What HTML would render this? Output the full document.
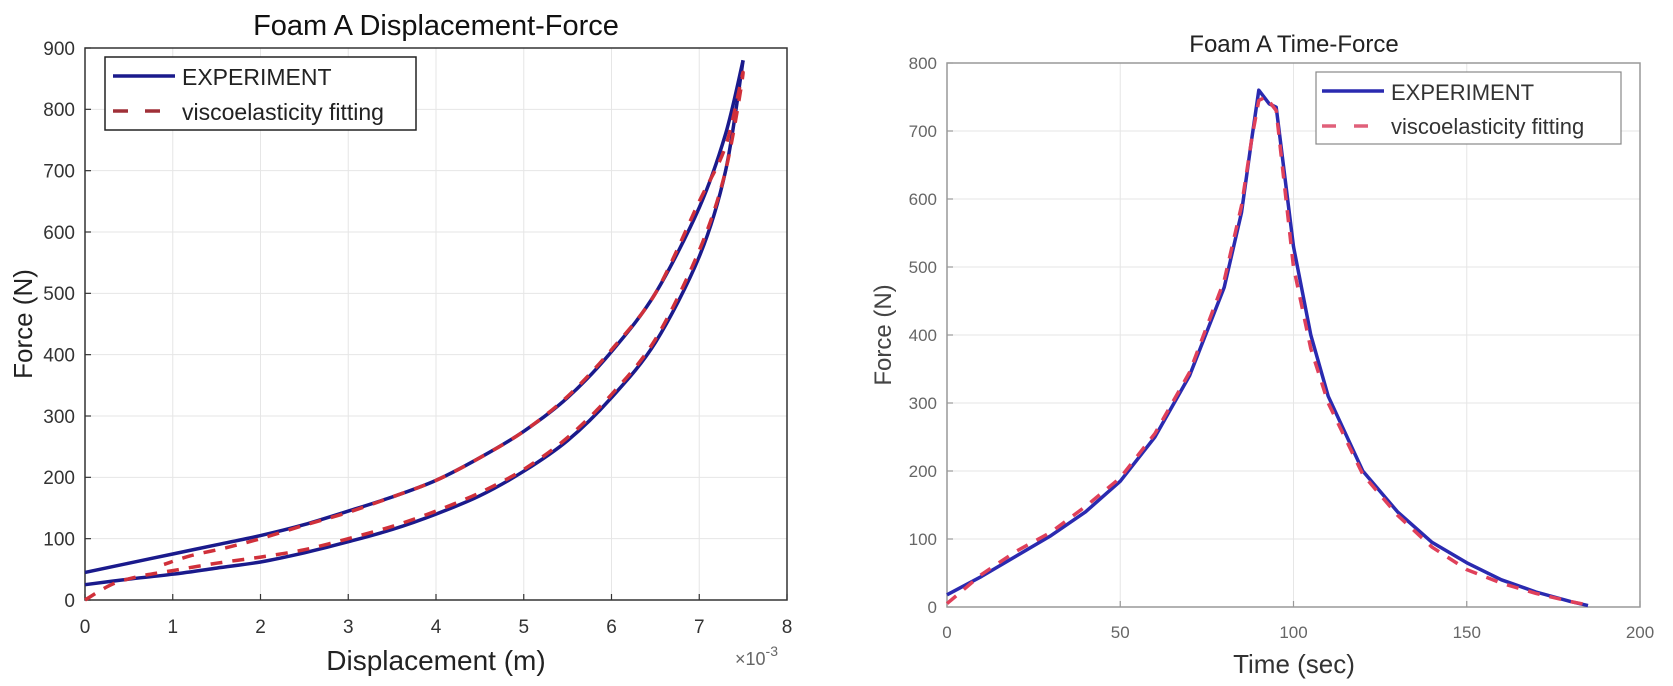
<!DOCTYPE html>
<html><head><meta charset="utf-8">
<style>
body{margin:0;background:#fff;}
svg{display:block;font-family:"Liberation Sans",sans-serif;}
</style></head>
<body>
<svg id="chart" width="1673" height="686" viewBox="0 0 1673 686">
<g id="left"></g>
<g id="right"></g>
</svg>
<script>
// Left chart data (displacement in 1e-3 m, force in N)
const dispTicks = [0,1,2,3,4,5,6,7,8];
const forceTicksL = [0,100,200,300,400,500,600,700,800,900];
const expLoadX = [0,0.5,1,1.5,2,2.5,3,3.5,4,4.5,5,5.5,6,6.5,7,7.3,7.5];
const expLoadY = [25,34,42,52,62,77,95,115,140,170,210,260,330,420,560,700,880];
const expUnloadX = [7.5,7.3,7,6.5,6,5.5,5,4.5,4,3.5,3,2.5,2,1.5,1,0.5,0];
const expUnloadY = [880,760,640,500,405,330,275,232,195,168,145,123,105,90,75,60,45];
const fitX = [0,0.3,0.6,1,1.5,2,2.5,3,3.5,4,4.5,5,5.5,6,6.5,7,7.3,7.5,7.3,7,6.5,6,5.5,5,4.5,4,3.5,3,2.5,2,1.6,1.2,0.9];
const fitY = [0,25,38,48,60,70,82,100,120,145,175,213,265,335,425,570,700,860,740,650,500,408,332,275,232,195,168,143,122,100,85,72,58];
// Right chart data
const timeTicks = [0,50,100,150,200];
const forceTicksR = [0,100,200,300,400,500,600,700,800];
const expT = [0,10,20,30,40,50,60,70,80,85,88,90,93,95,100,105,110,120,130,140,150,160,170,180,185];
const expF = [18,45,75,105,140,185,250,340,470,580,690,760,740,735,530,400,310,200,140,95,65,40,22,8,2];
const fitT = [0,10,20,30,40,50,60,70,80,85,88,90,92,95,100,105,110,120,130,140,150,160,170,180,185];
const fitF = [5,48,82,110,148,190,255,345,480,590,690,745,750,730,500,380,300,195,135,88,55,35,20,8,3];

const NS="http://www.w3.org/2000/svg";
function el(p,tag,attrs,text){const e=document.createElementNS(NS,tag);for(const k in attrs)e.setAttribute(k,attrs[k]);if(text!==undefined)e.textContent=text;p.appendChild(e);return e;}

function smoothPath(pts){
  let d='M'+pts[0][0].toFixed(1)+','+pts[0][1].toFixed(1);
  for(let i=0;i<pts.length-1;i++){
    const p0=pts[i-1]||pts[i],p1=pts[i],p2=pts[i+1],p3=pts[i+2]||p2;
    const t=0.16;
    const c1=[p1[0]+(p2[0]-p0[0])*t,p1[1]+(p2[1]-p0[1])*t];
    const c2=[p2[0]-(p3[0]-p1[0])*t,p2[1]-(p3[1]-p1[1])*t];
    d+=' C'+c1[0].toFixed(1)+','+c1[1].toFixed(1)+' '+c2[0].toFixed(1)+','+c2[1].toFixed(1)+' '+p2[0].toFixed(1)+','+p2[1].toFixed(1);
  }
  return d;
}

function drawChart(g,cfg){
  const sx=v=>cfg.x0+(v-cfg.xmin)/(cfg.xmax-cfg.xmin)*(cfg.x1-cfg.x0);
  const sy=v=>cfg.y0-(v-cfg.ymin)/(cfg.ymax-cfg.ymin)*(cfg.y0-cfg.y1);
  cfg.xt.forEach(t=>{
    const l=el(g,'line',{x1:sx(t),x2:sx(t),y1:cfg.y1,y2:cfg.y0,stroke:'#e6e6e6','stroke-width':1});
    
    
    const tk=el(g,'line',{x1:sx(t),x2:sx(t),y1:cfg.y0,y2:cfg.y0-6,stroke:cfg.axisColor,'stroke-width':1.2});
    
    
    const tx=el(g,'text',{x:sx(t),y:cfg.y0+cfg.tickFs+14,'font-size':cfg.tickFs,fill:cfg.tickColor,'text-anchor':'middle'},String(t));
    
    
  });
  cfg.yt.forEach(t=>{
    const l=el(g,'line',{x1:cfg.x0,x2:cfg.x1,y1:sy(t),y2:sy(t),stroke:'#e6e6e6','stroke-width':1});
    
    
    const tk=el(g,'line',{x1:cfg.x0,x2:cfg.x0+6,y1:sy(t),y2:sy(t),stroke:cfg.axisColor,'stroke-width':1.2});
    
    
    const tx=el(g,'text',{x:cfg.x0-10,y:sy(t)+cfg.tickFs*0.36,'font-size':cfg.tickFs,fill:cfg.tickColor,'text-anchor':'end'},String(t));
    
    
  });
  const box=el(g,'rect',{x:cfg.x0,y:cfg.y1,width:cfg.x1-cfg.x0,height:cfg.y0-cfg.y1,fill:'none',stroke:cfg.axisColor,'stroke-width':1.5});
  
  
  cfg.series.forEach(s=>{
    const pts=s.x.map((v,i)=>[sx(v),sy(s.y[i])]);
    const d=cfg.smooth?smoothPath(pts):pts.map((p,i)=>(i?'L':'M')+p[0].toFixed(1)+','+p[1].toFixed(1)).join(' ');
    const p=el(g,'path',{d:d,fill:'none',stroke:s.color,'stroke-width':s.w,'stroke-dasharray':s.dash||'none','stroke-linejoin':'round'});
    
    
  });
}

const L=document.getElementById('left');
drawChart(L,{x0:85,x1:787,y0:600,y1:48,xmin:0,xmax:8,ymin:0,ymax:900,xt:dispTicks,yt:forceTicksL,tickFs:19,tickColor:'#333',axisColor:'#333',smooth:true,
 series:[
  {name:'experiment-loading-line',x:expLoadX,y:expLoadY,color:'#1a1a8c',w:3.5},
  {name:'experiment-unloading-line',x:expUnloadX,y:expUnloadY,color:'#1a1a8c',w:3.5},
  {name:'fitting-line',x:fitX,y:fitY,color:'#d0303a',w:3.5,dash:'12 10'}]});
const R=document.getElementById('right');
drawChart(R,{x0:947,x1:1640,y0:607,y1:63,xmin:0,xmax:200,ymin:0,ymax:800,xt:timeTicks,yt:forceTicksR,tickFs:17,tickColor:'#666',axisColor:'#999',smooth:false,
 series:[
  {name:'experiment-line',x:expT,y:expF,color:'#2a2ab0',w:3.5},
  {name:'fitting-line',x:fitT,y:fitF,color:'#e0405a',w:3.5,dash:'12 10'}]});
</script>
<svg style="position:absolute;left:0;top:0" width="1673" height="686">
  <text x="436" y="35" font-size="29" text-anchor="middle" fill="#111" font-family="Liberation Sans,sans-serif">Foam A Displacement-Force</text>
  <text x="436" y="670" font-size="28" text-anchor="middle" fill="#222" font-family="Liberation Sans,sans-serif">Displacement (m)</text>
  <text x="0" y="0" font-size="26" text-anchor="middle" fill="#222" font-family="Liberation Sans,sans-serif" transform="translate(32,324) rotate(-90)">Force (N)</text>
  <text x="735" y="665" font-size="18" fill="#666" font-family="Liberation Sans,sans-serif">×10<tspan dy="-9" font-size="14">-3</tspan></text>
  <g>
    <rect x="105" y="57" width="311" height="73" fill="#fff" stroke="#222" stroke-width="1.5"/>
    <line x1="113" y1="76" x2="175" y2="76" stroke="#1a1a8c" stroke-width="3.5"/>
    <text x="182" y="85" font-size="23" fill="#222" font-family="Liberation Sans,sans-serif">EXPERIMENT</text>
    <line x1="113" y1="111" x2="175" y2="111" stroke="#a03038" stroke-width="3.5" stroke-dasharray="15 17"/>
    <text x="182" y="120" font-size="23" fill="#222" font-family="Liberation Sans,sans-serif">viscoelasticity fitting</text>
  </g>
  <text x="1294" y="52" font-size="24" text-anchor="middle" fill="#222" font-family="Liberation Sans,sans-serif">Foam A Time-Force</text>
  <text x="1294" y="673" font-size="26" text-anchor="middle" fill="#333" font-family="Liberation Sans,sans-serif">Time (sec)</text>
  <text x="0" y="0" font-size="24" text-anchor="middle" fill="#444" font-family="Liberation Sans,sans-serif" transform="translate(891,335) rotate(-90)">Force (N)</text>
  <g>
    <rect x="1316" y="72" width="305" height="72" fill="#fff" stroke="#888" stroke-width="1.2"/>
    <line x1="1322" y1="91" x2="1384" y2="91" stroke="#2a2ab0" stroke-width="3.5"/>
    <text x="1391" y="100" font-size="22" fill="#333" font-family="Liberation Sans,sans-serif">EXPERIMENT</text>
    <line x1="1322" y1="126" x2="1384" y2="126" stroke="#e0607a" stroke-width="3.5" stroke-dasharray="14 18"/>
    <text x="1391" y="134" font-size="22" fill="#333" font-family="Liberation Sans,sans-serif">viscoelasticity fitting</text>
  </g>
</svg>
</body></html>
